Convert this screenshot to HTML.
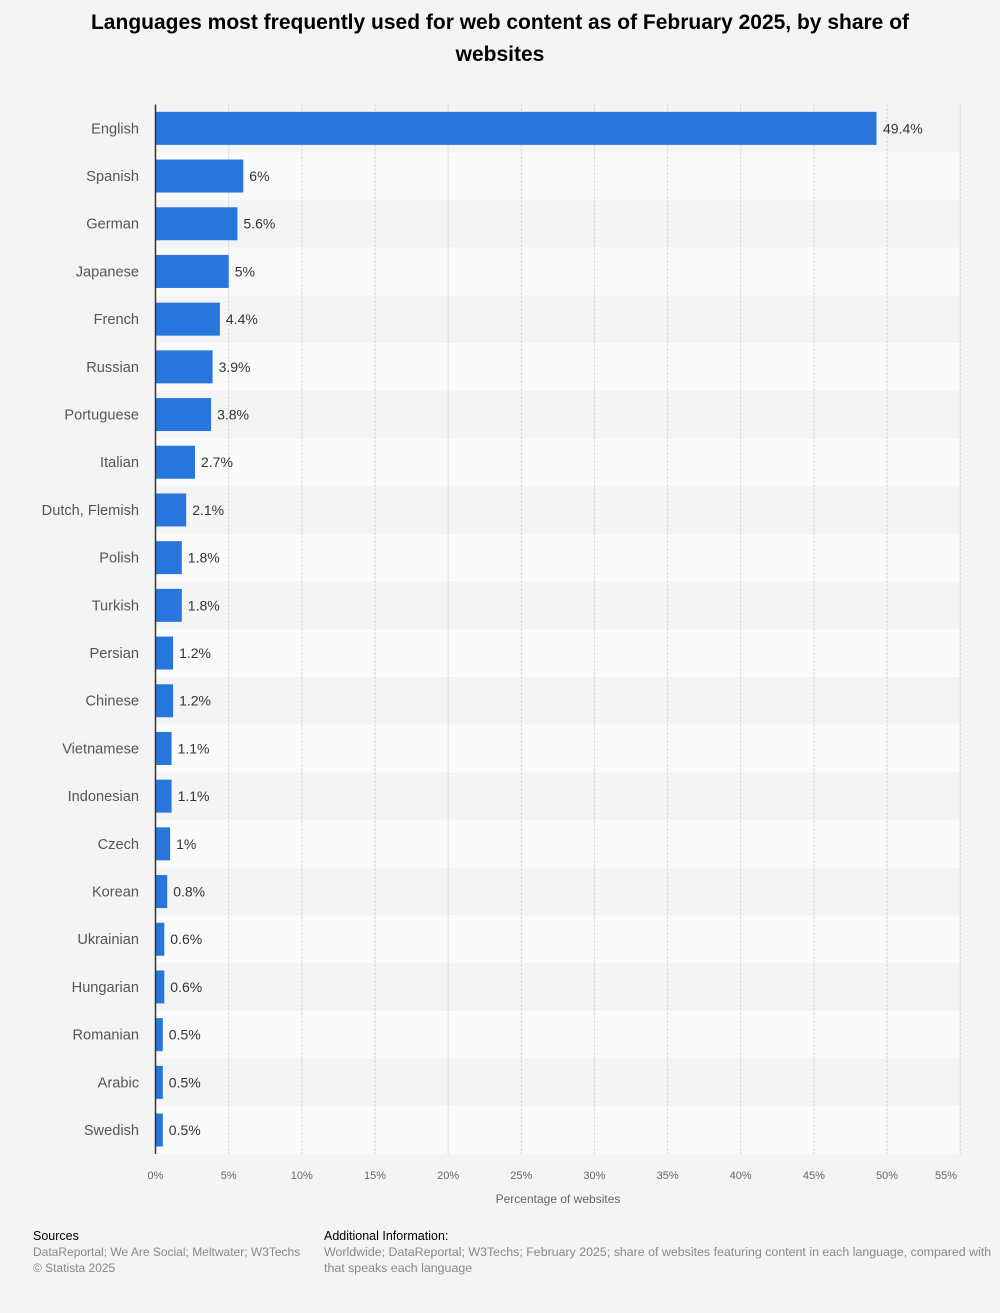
<!DOCTYPE html>
<html><head><meta charset="utf-8"><style>
body{margin:0;background:#f4f4f4;font-family:"Liberation Sans",sans-serif}
</style></head><body>
<svg width="1000" height="1313" xmlns="http://www.w3.org/2000/svg" font-family="Liberation Sans, sans-serif" style="display:block">
<rect width="1000" height="1313" fill="#f4f4f4"/>
<text x="500" y="29" text-anchor="middle" font-size="21" font-weight="bold" fill="#000">Languages most frequently used for web content as of February 2025, by share of</text>
<text x="500" y="61" text-anchor="middle" font-size="21" font-weight="bold" fill="#000">websites</text>
<g fill="#fafafa">
<rect x="155.5" y="152.2" width="805" height="47.7"/>
<rect x="155.5" y="247.6" width="805" height="47.7"/>
<rect x="155.5" y="343.0" width="805" height="47.7"/>
<rect x="155.5" y="438.4" width="805" height="47.7"/>
<rect x="155.5" y="533.8" width="805" height="47.7"/>
<rect x="155.5" y="629.2" width="805" height="47.7"/>
<rect x="155.5" y="724.6" width="805" height="47.7"/>
<rect x="155.5" y="820.0" width="805" height="47.7"/>
<rect x="155.5" y="915.4" width="805" height="47.7"/>
<rect x="155.5" y="1010.8" width="805" height="47.7"/>
<rect x="155.5" y="1106.2" width="805" height="47.7"/>
</g>
<g stroke="#ccc" stroke-dasharray="2,2">
<line x1="228.7" y1="104.5" x2="228.7" y2="1154"/>
<line x1="301.8" y1="104.5" x2="301.8" y2="1154"/>
<line x1="375.0" y1="104.5" x2="375.0" y2="1154"/>
<line x1="448.1" y1="104.5" x2="448.1" y2="1154"/>
<line x1="521.3" y1="104.5" x2="521.3" y2="1154"/>
<line x1="594.4" y1="104.5" x2="594.4" y2="1154"/>
<line x1="667.6" y1="104.5" x2="667.6" y2="1154"/>
<line x1="740.7" y1="104.5" x2="740.7" y2="1154"/>
<line x1="813.9" y1="104.5" x2="813.9" y2="1154"/>
<line x1="887.0" y1="104.5" x2="887.0" y2="1154"/>
<line x1="960.2" y1="104.5" x2="960.2" y2="1154"/>
</g>
<g fill="#2876dd">
<rect x="155.5" y="111.85" width="721" height="33"/>
<rect x="155.5" y="159.55" width="87.8" height="33"/>
<rect x="155.5" y="207.25" width="81.9" height="33"/>
<rect x="155.5" y="254.95" width="73.2" height="33"/>
<rect x="155.5" y="302.65" width="64.4" height="33"/>
<rect x="155.5" y="350.35" width="57.1" height="33"/>
<rect x="155.5" y="398.05" width="55.6" height="33"/>
<rect x="155.5" y="445.75" width="39.5" height="33"/>
<rect x="155.5" y="493.45" width="30.7" height="33"/>
<rect x="155.5" y="541.15" width="26.3" height="33"/>
<rect x="155.5" y="588.85" width="26.3" height="33"/>
<rect x="155.5" y="636.55" width="17.6" height="33"/>
<rect x="155.5" y="684.25" width="17.6" height="33"/>
<rect x="155.5" y="731.95" width="16.1" height="33"/>
<rect x="155.5" y="779.65" width="16.1" height="33"/>
<rect x="155.5" y="827.35" width="14.6" height="33"/>
<rect x="155.5" y="875.05" width="11.7" height="33"/>
<rect x="155.5" y="922.75" width="8.8" height="33"/>
<rect x="155.5" y="970.45" width="8.8" height="33"/>
<rect x="155.5" y="1018.15" width="7.3" height="33"/>
<rect x="155.5" y="1065.85" width="7.3" height="33"/>
<rect x="155.5" y="1113.55" width="7.3" height="33"/>
</g>
<g font-size="14.6" fill="#555" text-anchor="end">
<text x="139" y="133.3">English</text>
<text x="139" y="181.0">Spanish</text>
<text x="139" y="228.7">German</text>
<text x="139" y="276.4">Japanese</text>
<text x="139" y="324.1">French</text>
<text x="139" y="371.8">Russian</text>
<text x="139" y="419.5">Portuguese</text>
<text x="139" y="467.2">Italian</text>
<text x="139" y="514.9">Dutch, Flemish</text>
<text x="139" y="562.6">Polish</text>
<text x="139" y="610.3">Turkish</text>
<text x="139" y="658.0">Persian</text>
<text x="139" y="705.7">Chinese</text>
<text x="139" y="753.4">Vietnamese</text>
<text x="139" y="801.1">Indonesian</text>
<text x="139" y="848.8">Czech</text>
<text x="139" y="896.5">Korean</text>
<text x="139" y="944.2">Ukrainian</text>
<text x="139" y="991.9">Hungarian</text>
<text x="139" y="1039.6">Romanian</text>
<text x="139" y="1087.3">Arabic</text>
<text x="139" y="1135.0">Swedish</text>
</g>
<g font-size="14" fill="#333">
<text x="883" y="133.3">49.4%</text>
<text x="249.3" y="181.0">6%</text>
<text x="243.4" y="228.7">5.6%</text>
<text x="234.7" y="276.4">5%</text>
<text x="225.9" y="324.1">4.4%</text>
<text x="218.6" y="371.8">3.9%</text>
<text x="217.1" y="419.5">3.8%</text>
<text x="201.0" y="467.2">2.7%</text>
<text x="192.2" y="514.9">2.1%</text>
<text x="187.8" y="562.6">1.8%</text>
<text x="187.8" y="610.3">1.8%</text>
<text x="179.1" y="658.0">1.2%</text>
<text x="179.1" y="705.7">1.2%</text>
<text x="177.6" y="753.4">1.1%</text>
<text x="177.6" y="801.1">1.1%</text>
<text x="176.1" y="848.8">1%</text>
<text x="173.2" y="896.5">0.8%</text>
<text x="170.3" y="944.2">0.6%</text>
<text x="170.3" y="991.9">0.6%</text>
<text x="168.8" y="1039.6">0.5%</text>
<text x="168.8" y="1087.3">0.5%</text>
<text x="168.8" y="1135.0">0.5%</text>
</g>
<line x1="155.5" y1="104.5" x2="155.5" y2="1154" stroke="#333" stroke-width="1.5"/>
<g font-size="11" fill="#666" text-anchor="middle">
<text x="155.5" y="1179">0%</text>
<text x="228.7" y="1179">5%</text>
<text x="301.8" y="1179">10%</text>
<text x="375.0" y="1179">15%</text>
<text x="448.1" y="1179">20%</text>
<text x="521.3" y="1179">25%</text>
<text x="594.4" y="1179">30%</text>
<text x="667.6" y="1179">35%</text>
<text x="740.7" y="1179">40%</text>
<text x="813.9" y="1179">45%</text>
<text x="887.0" y="1179">50%</text>
<text x="946" y="1179">55%</text>
</g>
<text x="558" y="1203" text-anchor="middle" font-size="12" fill="#666">Percentage of websites</text>
<text x="33" y="1240" font-size="12.5" fill="#000">Sources</text>
<text x="33" y="1256" font-size="12" fill="#888">DataReportal; We Are Social; Meltwater; W3Techs</text>
<text x="33" y="1272" font-size="12" fill="#888">© Statista 2025</text>
<text x="324" y="1240" font-size="12.5" fill="#000">Additional Information:</text>
<text x="324" y="1256" font-size="12.4" fill="#888">Worldwide; DataReportal; W3Techs; February 2025; share of websites featuring content in each language, compared with</text>
<text x="324" y="1272" font-size="12.4" fill="#888">that speaks each language</text>
</svg>
</body></html>
